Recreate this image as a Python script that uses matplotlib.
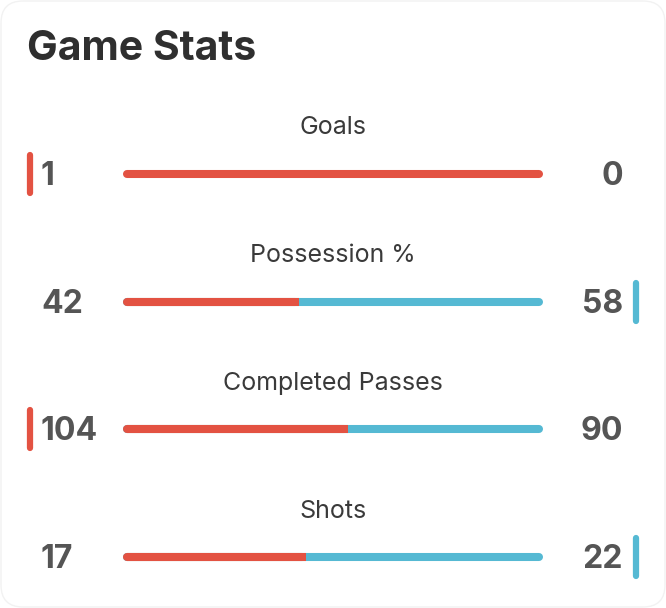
import matplotlib.pyplot as plt
from matplotlib.patches import FancyBboxPatch

stats = ['Goals', 'Possession %', 'Completed Passes', 'Shots']
home = [1, 42, 104, 17]
away = [0, 58, 90, 22]

RED = '#E35242'
BLUE = '#55B9D3'
plt.rcParams['font.family'] = ['Inter', 'DejaVu Sans']

fig = plt.figure(figsize=(6.66, 6.08), dpi=100)
ax = fig.add_axes([0, 0, 1, 1])
ax.set_xlim(0, 666)
ax.set_ylim(608, 0)
ax.axis('off')

# card
ax.add_patch(FancyBboxPatch((1, 1), 664, 606, boxstyle='round,pad=0,rounding_size=22',
                            facecolor='white', edgecolor='#f2f2f2', linewidth=1))

ax.text(27, 49, 'Game Stats', fontsize=29.5, fontweight='bold', color='#2f2f2f',
        ha='left', va='center')

x0, x1 = 123, 543
cap = 4
lw = 5.8  # ~8px
for i, name in enumerate(stats):
    ylab = 127.5 + i * 128
    ybar = 174 + i * 127.7
    ax.text(333, ylab, name, fontsize=18, color='#3a3a3a', ha='center', va='center')
    ax.text(41, ybar + 2.5, str(home[i]), fontsize=23, fontweight='bold', color='#555555',
            ha='left', va='center')
    ax.text(623, ybar + 2.5, str(away[i]), fontsize=23, fontweight='bold', color='#555555',
            ha='right', va='center')

    frac = home[i] / (home[i] + away[i])
    xs = x0 + frac * (x1 - x0)
    if frac >= 1:
        ax.plot([x0 + cap, x1 - cap], [ybar, ybar], color=RED, lw=lw, solid_capstyle='round')
    else:
        ax.plot([x0 + cap, x1 - cap], [ybar, ybar], color=BLUE, lw=lw, solid_capstyle='round')
        ax.plot([x0 + cap, xs - cap], [ybar, ybar], color=RED, lw=lw, solid_capstyle='round')
        ax.plot([x0 + cap, xs], [ybar, ybar], color=RED, lw=lw, solid_capstyle='butt')

    # winner marker
    if home[i] > away[i]:
        ax.plot([30, 30], [ybar - 19, ybar + 19], color=RED, lw=4.5, solid_capstyle='round')
    else:
        ax.plot([636, 636], [ybar - 19, ybar + 19], color=BLUE, lw=4.5, solid_capstyle='round')

fig.savefig('out.png', dpi=100)
